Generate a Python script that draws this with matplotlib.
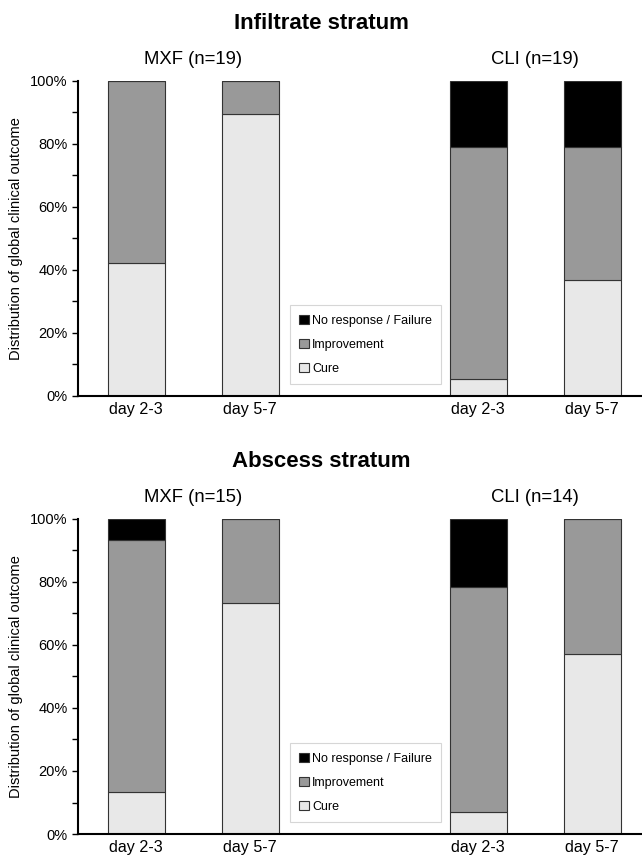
import matplotlib
matplotlib.use("Agg")
import matplotlib.pyplot as plt
import matplotlib.transforms as mtransforms
import numpy as np
from matplotlib.patches import Patch

plt.rcParams['font.family'] = ['Liberation Sans', 'DejaVu Sans']

# data (percent of patients)
days = ["day 2-3", "day 5-7", "day 2-3", "day 5-7"]
inf_cure = [42.1, 89.5, 5.3, 36.8]
inf_impr = [57.9, 10.5, 73.7, 42.1]
inf_fail = [0.0, 0.0, 21.0, 21.1]
abs_cure = [13.3, 73.3, 7.1, 57.1]
abs_impr = [80.0, 26.7, 71.4, 42.9]
abs_fail = [6.7, 0.0, 21.5, 0.0]

strata = ["Infiltrate stratum", "Abscess stratum"]
groups_inf = ["MXF (n=19)", "CLI (n=19)"]
groups_abs = ["MXF (n=15)", "CLI (n=14)"]

c_cure = "#e8e8e8"
c_impr = "#999999"
c_fail = "#000000"
edge = "#333333"

pos = np.array([0, 1, 3, 4])

fig = plt.figure(figsize=(6.42, 8.56), dpi=100)
ax1 = fig.add_axes([0.1215, 0.5374, 0.877, 0.368])
ax2 = fig.add_axes([0.1215, 0.0257, 0.877, 0.368])


def draw(ax, cure, impr, fail, title, groups):
    cure = np.array(cure)
    impr = np.array(impr)
    fail = np.array(fail)
    ax.bar(pos, cure, 0.5, color=c_cure, edgecolor=edge, linewidth=0.8)
    ax.bar(pos, impr, 0.5, bottom=cure, color=c_impr, edgecolor=edge, linewidth=0.8)
    ax.bar(pos, fail, 0.5, bottom=cure + impr, color=c_fail, edgecolor=edge, linewidth=0.8)
    ax.set_xlim(-0.51, 4.43)
    ax.set_ylim(0, 100)
    ax.set_yticks(np.arange(0, 101, 20))
    ax.set_yticklabels([f"{v}%" for v in range(0, 101, 20)], fontsize=10.5)
    ax.set_yticks(np.arange(10, 100, 20), minor=True)
    ax.tick_params(axis='y', which='both', direction='out', length=4, width=1)
    ax.set_xticks(pos)
    ax.set_xticklabels(days, fontsize=11.6)
    ax.tick_params(axis='x', length=0, pad=4)
    for s in ["top", "right"]:
        ax.spines[s].set_visible(False)
    ax.spines["left"].set_linewidth(1.5)
    ax.spines["bottom"].set_linewidth(1.5)
    ax.set_ylabel("Distribution of global clinical outcome", fontsize=10.5, labelpad=5)
    ax.text(0.5, 1.04, groups[0], transform=ax.get_xaxis_transform(),
            ha="center", va="bottom", fontsize=13.3)
    ax.text(3.5, 1.04, groups[1], transform=ax.get_xaxis_transform(),
            ha="center", va="bottom", fontsize=13.3)
    # stratum title centred on the figure
    tr = mtransforms.blended_transform_factory(fig.transFigure, ax.transAxes)
    ax.text(0.5, 1.15, title, transform=tr, ha="center", va="bottom",
            fontsize=16, fontweight="bold")
    handles = [Patch(facecolor=c_fail, edgecolor=edge, linewidth=0.8),
               Patch(facecolor=c_impr, edgecolor=edge, linewidth=0.8),
               Patch(facecolor=c_cure, edgecolor=edge, linewidth=0.8)]
    leg = ax.legend(handles, ["No response / Failure", "Improvement", "Cure"],
                    loc="lower left", bbox_to_anchor=(0.376, 0.038),
                    fontsize=9, frameon=True, fancybox=False,
                    handlelength=0.8, handleheight=0.8, handletextpad=0.25,
                    labelspacing=0.95, borderpad=0.75, borderaxespad=0)
    leg.get_frame().set_edgecolor("#cccccc")
    leg.get_frame().set_linewidth(0.8)


draw(ax1, inf_cure, inf_impr, inf_fail, strata[0], groups_inf)
draw(ax2, abs_cure, abs_impr, abs_fail, strata[1], groups_abs)

fig.savefig("out.png", dpi=100)
